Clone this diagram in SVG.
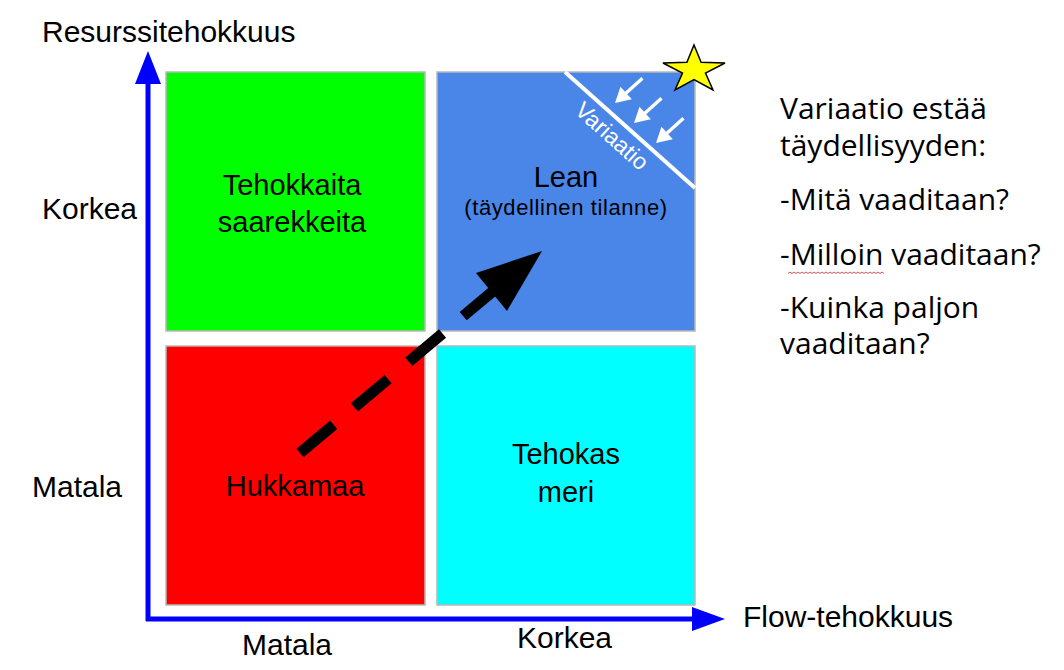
<svg xmlns="http://www.w3.org/2000/svg" xmlns:xlink="http://www.w3.org/1999/xlink" width="1064" height="670" viewBox="0 0 1064 670">
<style>
.q{stroke:#b8b8b8;stroke-width:1.5}
.ax{font-family:"Liberation Sans",Arial,sans-serif;font-size:30px;fill:#000}
.qt{font-family:"Liberation Sans",Arial,sans-serif;font-size:29px;fill:#000;text-anchor:middle}
.rt{font-family:"Open Sans","Noto Sans",sans-serif;font-size:30px;fill:#000}
</style>
<defs>
<path id="warr" d="M-37,-1.7 L-15,-1.7 L-15,-8.5 L0,0 L-15,8.5 L-15,1.7 L-37,1.7 z" fill="#fff"/>
</defs>
<rect width="1064" height="670" fill="#fff"/>
<g id="q-green"><rect class="q" x="166" y="72" width="259" height="259" fill="#00ff00"/>
<text class="qt" x="292" y="195">Tehokkaita</text><text class="qt" x="292" y="232">saarekkeita</text></g>
<g id="q-blue"><rect class="q" x="437" y="72" width="258" height="259" fill="#4a86e8"/>
<text class="qt" x="566" y="187">Lean</text>
<text class="qt" x="566" y="215" style="font-size:22px" letter-spacing="0.6">(täydellinen tilanne)</text>
<line x1="565" y1="72" x2="695" y2="188" stroke="#fff" stroke-width="4"/>
<text transform="translate(612,136) rotate(41.7)" x="0" y="8" text-anchor="middle" font-family="Liberation Sans,Arial,sans-serif" font-size="23" fill="#fff">Variaatio</text>
<use xlink:href="#warr" href="#warr" transform="translate(615,103) rotate(138)"/>
<use xlink:href="#warr" href="#warr" transform="translate(634,123) rotate(138)"/>
<use xlink:href="#warr" href="#warr" transform="translate(656,143) rotate(138)"/>
</g>
<g id="q-red"><rect class="q" x="166" y="346" width="259" height="259" fill="#ff0000"/>
<text class="qt" x="295" y="496">Hukkamaa</text></g>
<g id="q-cyan"><rect class="q" x="437" y="346" width="258" height="259" fill="#00ffff"/>
<text class="qt" x="566" y="464">Tehokas</text><text class="qt" x="566" y="502">meri</text></g>
<g id="star"><polygon points="694,45 701.1,62.3 725,63 705.5,73 713,90 694,79.5 675,90 682.5,73 663,63 686.9,62.3" fill="#ffff00" stroke="#000" stroke-width="1.5" stroke-linejoin="miter"/></g>
<g id="axes">
<line x1="148" y1="621" x2="148" y2="82" stroke="#0000ff" stroke-width="5"/>
<polygon points="148,51 161,84 135,84" fill="#0000ff"/>
<line x1="146" y1="619" x2="694" y2="619" stroke="#0000ff" stroke-width="5"/>
<polygon points="725,619 692,607 692,631" fill="#0000ff"/>
<text class="ax" x="42" y="42">Resurssitehokkuus</text>
<text class="ax" x="42" y="219">Korkea</text>
<text class="ax" x="32" y="497">Matala</text>
<text class="ax" x="242" y="655">Matala</text>
<text class="ax" x="517" y="648">Korkea</text>
<text class="ax" x="743" y="627">Flow-tehokkuus</text>
</g>
<g id="connectors">
<line x1="300" y1="453" x2="492" y2="292" stroke="#000" stroke-width="11" stroke-dasharray="44 27"/>
<polygon points="542,251 476,273 507,311" fill="#000"/>
</g>
<g id="note">
<text class="rt"><tspan x="780" y="119">Variaatio estää</tspan><tspan x="780" y="156">täydellisyyden:</tspan></text>
<text class="rt" x="780" y="210">-Mitä vaaditaan?</text>
<text class="rt" x="780" y="265">-Milloin vaaditaan?</text>
<text class="rt"><tspan x="780" y="318">-Kuinka paljon</tspan><tspan x="780" y="354">vaaditaan?</tspan></text>
<polyline points="788,273.5 790,272 792,273.5 794,272 796,273.5 798,272 800,273.5 802,272 804,273.5 806,272 808,273.5 810,272 812,273.5 814,272 816,273.5 818,272 820,273.5 822,272 824,273.5 826,272 828,273.5 830,272 832,273.5 834,272 836,273.5 838,272 840,273.5 842,272 844,273.5 846,272 848,273.5 850,272 852,273.5 854,272 856,273.5 858,272 860,273.5 862,272 864,273.5 866,272 868,273.5 870,272 872,273.5 874,272 876,273.5 878,272 880,273.5 882,272 884,273.5" fill="none" stroke="#e05050" stroke-width="1"/>
</g>
</svg>
